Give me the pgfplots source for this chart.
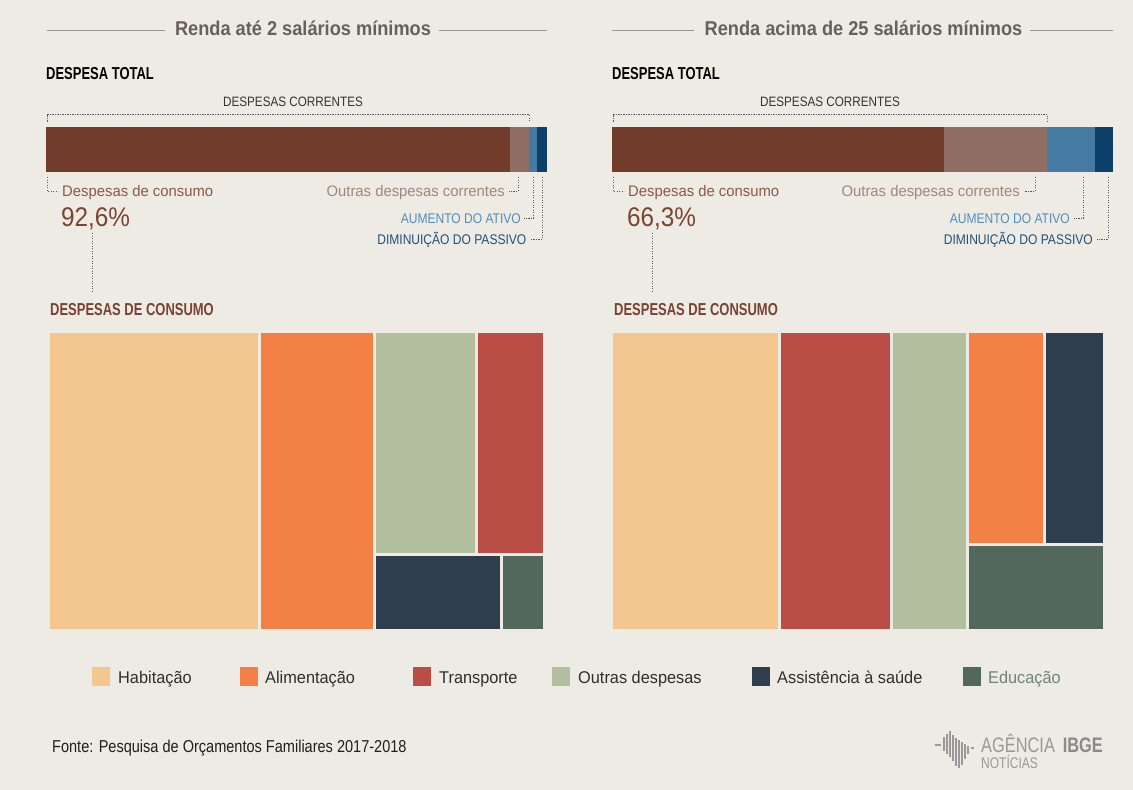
\documentclass[border=0pt]{standalone}
\usepackage{fontspec}
\setmainfont{Liberation Sans}
\newfontfamily\fTitle[FakeStretch=0.91]{Liberation Sans}
\newfontfamily\fHead[FakeStretch=0.75]{Liberation Sans}
\newfontfamily\fCaps[FakeStretch=0.86]{Liberation Sans}
\newfontfamily\fLab[FakeStretch=0.97]{Liberation Sans}
\newfontfamily\fPct[FakeStretch=0.90]{Liberation Sans}
\newfontfamily\fLeg[FakeStretch=0.96]{Liberation Sans}
\newfontfamily\fSrc[FakeStretch=0.845]{Liberation Sans}
\newfontfamily\fLogo[FakeStretch=0.78]{Liberation Sans}
\usepackage{pgfplots}
\pgfplotsset{compat=1.18}
\definecolor{bg}{HTML}{EEEBE4}
\definecolor{cLine}{HTML}{9A9591}
\definecolor{cTitle}{HTML}{67605C}
\definecolor{cCons}{HTML}{713D2A}
\definecolor{cOutC}{HTML}{8F6F63}
\definecolor{cAum}{HTML}{457BA3}
\definecolor{cDim}{HTML}{0D3F6B}
\definecolor{tCons}{HTML}{8A5A45}
\definecolor{tPct}{HTML}{7B4431}
\definecolor{tOutC}{HTML}{A3867A}
\definecolor{tAum}{HTML}{4F8DBF}
\definecolor{tDim}{HTML}{20507E}
\definecolor{tHead}{HTML}{7A4232}
\definecolor{cHab}{HTML}{F5C790}
\definecolor{cAli}{HTML}{F38146}
\definecolor{cTra}{HTML}{BA4D45}
\definecolor{cOut}{HTML}{B2C0A0}
\definecolor{cSau}{HTML}{2E3E4E}
\definecolor{cEdu}{HTML}{53685C}
\definecolor{tEdu}{HTML}{6E8576}
\definecolor{cDot}{HTML}{5A5A5A}
\definecolor{cLogo}{HTML}{999999}
\begin{document}
\begin{tikzpicture}[dots/.style={cDot, line width=0.8pt, dash pattern=on 1.2pt off 1.3pt}]
\fill[bg] (0,0) rectangle (1133pt,-790pt);
\useasboundingbox (0,0) rectangle (1133pt,-790pt);

% ---------- titles ----------
\draw[cLine, line width=1pt] (47pt,-30pt) -- (165pt,-30pt) (439pt,-30pt) -- (547pt,-30pt);
\draw[cLine, line width=1pt] (612pt,-30pt) -- (694pt,-30pt) (1030pt,-30pt) -- (1113pt,-30pt);
\node[anchor=base, inner sep=0, text=cTitle] at (303pt,-35pt) {\fTitle\bfseries\fontsize{20}{24}\selectfont Renda até 2 salários mínimos};
\node[anchor=base, inner sep=0, text=cTitle] at (863.5pt,-35pt) {\fTitle\bfseries\fontsize{20}{24}\selectfont Renda acima de 25 salários mínimos};

% ---------- headings ----------
\node[anchor=base west, inner sep=0, text=black] at (46pt,-79pt) {\fHead\bfseries\fontsize{17.3}{20}\selectfont DESPESA TOTAL};
\node[anchor=base west, inner sep=0, text=black] at (612pt,-79pt) {\fHead\bfseries\fontsize{17.3}{20}\selectfont DESPESA TOTAL};
\node[anchor=base, inner sep=0, text=black!80] at (293pt,-106pt) {\fCaps\fontsize{13.6}{16}\selectfont DESPESAS CORRENTES};
\node[anchor=base, inner sep=0, text=black!80] at (830pt,-106pt) {\fCaps\fontsize{13.6}{16}\selectfont DESPESAS CORRENTES};

% brackets
\draw[dots] (47pt,-121.5pt) -- (47pt,-114.3pt) -- (529pt,-114.3pt) -- (529pt,-121.5pt);
\draw[dots] (613pt,-121.5pt) -- (613pt,-114.3pt) -- (1047pt,-114.3pt) -- (1047pt,-121.5pt);

% ---------- stacked bars ----------
\begin{axis}[at={(46pt,-127pt)}, anchor=north west, scale only axis, width=501pt, height=45pt,
  xbar stacked, bar width=45pt, xmin=0, xmax=100, ymin=-0.5, ymax=0.5, hide axis, clip=false]
\addplot[fill=cCons, draw=none] coordinates {(92.6,0)};
\addplot[fill=cOutC, draw=none] coordinates {(3.9,0)};
\addplot[fill=cAum, draw=none] coordinates {(1.5,0)};
\addplot[fill=cDim, draw=none] coordinates {(2.0,0)};
\end{axis}
\begin{axis}[at={(612pt,-127pt)}, anchor=north west, scale only axis, width=501pt, height=45pt,
  xbar stacked, bar width=45pt, xmin=0, xmax=100, ymin=-0.5, ymax=0.5, hide axis, clip=false]
\addplot[fill=cCons, draw=none] coordinates {(66.3,0)};
\addplot[fill=cOutC, draw=none] coordinates {(20.5,0)};
\addplot[fill=cAum, draw=none] coordinates {(9.7,0)};
\addplot[fill=cDim, draw=none] coordinates {(3.5,0)};
\end{axis}

% ---------- bar annotations, left ----------
\draw[dots] (47pt,-177pt) -- (47pt,-191pt) -- (58pt,-191pt);
\node[anchor=base west, inner sep=0, text=tCons] at (62pt,-196.5pt) {\fLab\fontsize{15.3}{18}\selectfont Despesas de consumo};
\node[anchor=base west, inner sep=0, text=tPct] at (61pt,-226pt) {\fPct\fontsize{27}{30}\selectfont 92,6\%};
\draw[dots] (92pt,-233pt) -- (92pt,-291pt);
\draw[dots] (518pt,-177pt) -- (518pt,-191pt) -- (509pt,-191pt);
\node[anchor=base east, inner sep=0, text=tOutC] at (505pt,-196.5pt) {\fLab\fontsize{15.3}{18}\selectfont Outras despesas correntes};
\draw[dots] (533.5pt,-177pt) -- (533.5pt,-218pt) -- (524pt,-218pt);
\node[anchor=base east, inner sep=0, text=tAum] at (521pt,-223pt) {\fCaps\fontsize{14}{16}\selectfont AUMENTO DO ATIVO};
\draw[dots] (542.5pt,-177pt) -- (542.5pt,-239pt) -- (530pt,-239pt);
\node[anchor=base east, inner sep=0, text=tDim] at (526.5pt,-244pt) {\fCaps\fontsize{14}{16}\selectfont DIMINUIÇÃO DO PASSIVO};

% ---------- bar annotations, right ----------
\draw[dots] (613pt,-177pt) -- (613pt,-191pt) -- (624pt,-191pt);
\node[anchor=base west, inner sep=0, text=tCons] at (628pt,-196.5pt) {\fLab\fontsize{15.3}{18}\selectfont Despesas de consumo};
\node[anchor=base west, inner sep=0, text=tPct] at (627pt,-226pt) {\fPct\fontsize{27}{30}\selectfont 66,3\%};
\draw[dots] (652pt,-233pt) -- (652pt,-291pt);
\draw[dots] (1035pt,-177pt) -- (1035pt,-191pt) -- (1024pt,-191pt);
\node[anchor=base east, inner sep=0, text=tOutC] at (1020pt,-196.5pt) {\fLab\fontsize{15.3}{18}\selectfont Outras despesas correntes};
\draw[dots] (1083.5pt,-177pt) -- (1083.5pt,-218pt) -- (1074pt,-218pt);
\node[anchor=base east, inner sep=0, text=tAum] at (1070pt,-223pt) {\fCaps\fontsize{14}{16}\selectfont AUMENTO DO ATIVO};
\draw[dots] (1108pt,-177pt) -- (1108pt,-239pt) -- (1097pt,-239pt);
\node[anchor=base east, inner sep=0, text=tDim] at (1093pt,-244pt) {\fCaps\fontsize{14}{16}\selectfont DIMINUIÇÃO DO PASSIVO};

% ---------- treemap headings ----------
\node[anchor=base west, inner sep=0, text=tHead] at (50pt,-315pt) {\fHead\bfseries\fontsize{17.3}{20}\selectfont DESPESAS DE CONSUMO};
\node[anchor=base west, inner sep=0, text=tHead] at (614pt,-315pt) {\fHead\bfseries\fontsize{17.3}{20}\selectfont DESPESAS DE CONSUMO};

% ---------- treemap left (tile edges in % of box) ----------
\begin{axis}[at={(49pt,-331pt)}, anchor=north west, scale only axis, width=495.5pt, height=299.2pt,
  xmin=0, xmax=100, ymin=0, ymax=100, y dir=reverse, hide axis, clip=false,
  tile/.style={draw=bg, line width=3pt}]
\addplot[tile, fill=cHab] coordinates {(0,0) (42.42,0) (42.42,100) (0,100)} --cycle;
\addplot[tile, fill=cAli] coordinates {(42.42,0) (65.73,0) (65.73,100) (42.42,100)} --cycle;
\addplot[tile, fill=cOut] coordinates {(65.73,0) (86.24,0) (86.24,74.63) (65.73,74.63)} --cycle;
\addplot[tile, fill=cTra] coordinates {(86.24,0) (100,0) (100,74.63) (86.24,74.63)} --cycle;
\addplot[tile, fill=cSau] coordinates {(65.73,74.63) (91.36,74.63) (91.36,100) (65.73,100)} --cycle;
\addplot[tile, fill=cEdu] coordinates {(91.36,74.63) (100,74.63) (100,100) (91.36,100)} --cycle;
\end{axis}

% ---------- treemap right ----------
\begin{axis}[at={(611.8pt,-331pt)}, anchor=north west, scale only axis, width=492.7pt, height=299.2pt,
  xmin=0, xmax=100, ymin=0, ymax=100, y dir=reverse, hide axis, clip=false,
  tile/.style={draw=bg, line width=3pt}]
\addplot[tile, fill=cHab] coordinates {(0,0) (34.0,0) (34.0,100) (0,100)} --cycle;
\addplot[tile, fill=cTra] coordinates {(34.0,0) (56.8,0) (56.8,100) (34.0,100)} --cycle;
\addplot[tile, fill=cOut] coordinates {(56.8,0) (72.27,0) (72.27,100) (56.8,100)} --cycle;
\addplot[tile, fill=cAli] coordinates {(72.27,0) (87.8,0) (87.8,71.42) (72.27,71.42)} --cycle;
\addplot[tile, fill=cSau] coordinates {(87.8,0) (100,0) (100,71.42) (87.8,71.42)} --cycle;
\addplot[tile, fill=cEdu] coordinates {(72.27,71.42) (100,71.42) (100,100) (72.27,100)} --cycle;
\end{axis}

% ---------- legend ----------
\fill[cHab] (92pt,-667pt) rectangle ++(18pt,-19pt);
\fill[cAli] (240pt,-667pt) rectangle ++(18pt,-19pt);
\fill[cTra] (413pt,-667pt) rectangle ++(18pt,-19pt);
\fill[cOut] (552pt,-667pt) rectangle ++(18pt,-19pt);
\fill[cSau] (752pt,-667pt) rectangle ++(18pt,-19pt);
\fill[cEdu] (963pt,-667pt) rectangle ++(18pt,-19pt);
\node[anchor=base west, inner sep=0, text=black!82] at (118pt,-683.5pt) {\fLeg\fontsize{17}{20}\selectfont Habitação};
\node[anchor=base west, inner sep=0, text=black!82] at (265pt,-683.5pt) {\fLeg\fontsize{17}{20}\selectfont Alimentação};
\node[anchor=base west, inner sep=0, text=black!82] at (439pt,-683.5pt) {\fLeg\fontsize{17}{20}\selectfont Transporte};
\node[anchor=base west, inner sep=0, text=black!82] at (578pt,-683.5pt) {\fLeg\fontsize{17}{20}\selectfont Outras despesas};
\node[anchor=base west, inner sep=0, text=black!82] at (777pt,-683.5pt) {\fLeg\fontsize{17}{20}\selectfont Assistência à saúde};
\node[anchor=base west, inner sep=0, text=tEdu] at (988pt,-683.5pt) {\fLeg\fontsize{17}{20}\selectfont Educação};

% ---------- source ----------
\node[anchor=base west, inner sep=0, text=black!88] at (52pt,-752.3pt) {\fSrc\fontsize{17.2}{20}\selectfont Fonte: Pesquisa de Orçamentos Familiares 2017-2018};

% ---------- logo ----------
\begin{scope}[cLogo, line width=1.7pt]
\draw (935pt,-745pt) -- (941pt,-745pt);
\draw (944pt,-737pt) -- (944pt,-751pt);
\draw (947pt,-734pt) -- (947pt,-754pt);
\draw (950pt,-731pt) -- (950pt,-757pt);
\draw (953pt,-735pt) -- (953pt,-761pt);
\draw (956pt,-738pt) -- (956pt,-766pt);
\draw (959pt,-740pt) -- (959pt,-768pt);
\draw (962pt,-742pt) -- (962pt,-765pt);
\draw (965pt,-744pt) -- (965pt,-759pt);
\draw (968pt,-746pt) -- (968pt,-754pt);
\draw (971pt,-748pt) -- (974pt,-748pt);
\end{scope}
\node[anchor=base west, inner sep=0, text=cLogo] at (981pt,-752pt) {\fLogo\fontsize{21}{24}\selectfont AGÊNCIA};
\node[anchor=base east, inner sep=0, text=cLogo!90!black] at (1103pt,-752pt) {\fLogo\bfseries\fontsize{21}{24}\selectfont IBGE};
\node[anchor=base west, inner sep=0, text=cLogo] at (981pt,-768pt) {\fLogo\fontsize{15.4}{18}\selectfont NOTÍCIAS};
\end{tikzpicture}
\end{document}
